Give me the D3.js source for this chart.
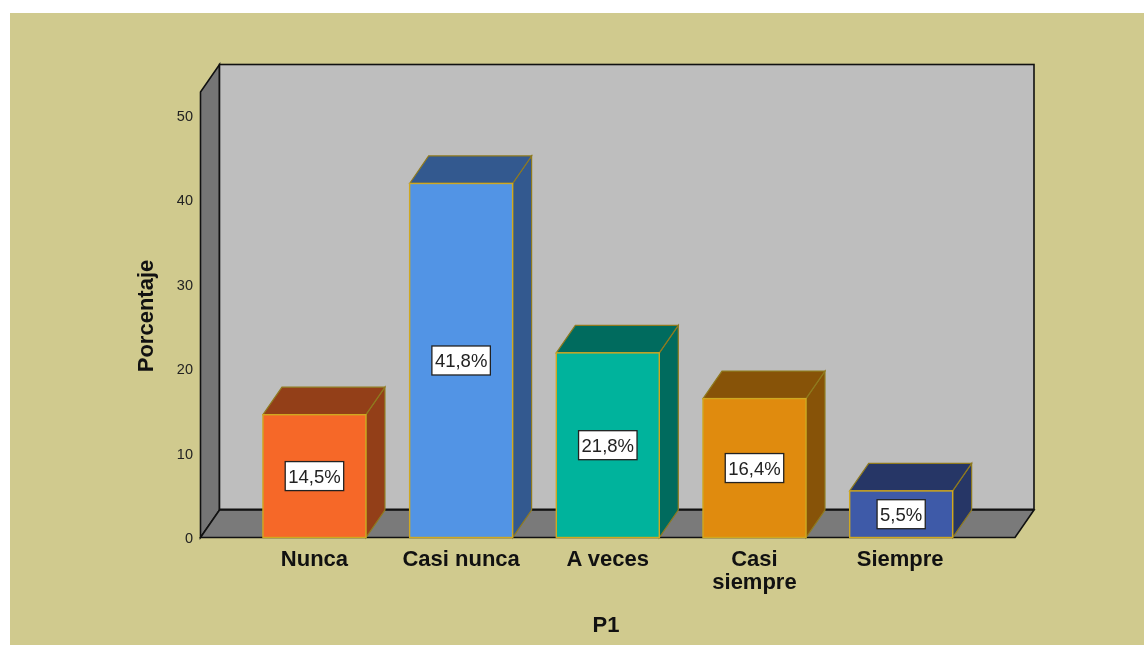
<!DOCTYPE html>
<html><head><meta charset="utf-8">
<script src="https://cdn.jsdelivr.net/npm/d3@7/dist/d3.min.js"></script>
<style>html,body{margin:0;padding:0;background:#fff}svg{display:block;filter:blur(0.35px)}text{font-family:"Liberation Sans",Arial,sans-serif}</style>
</head><body><svg id="c" width="1144" height="645"></svg>
<script>
const categories = ["Nunca","Casi nunca","A veces","Casi siempre","Siempre"];
const values = [14.5,41.8,21.8,16.4,5.5];
const valueLabels = ["14,5%","41,8%","21,8%","16,4%","5,5%"];
const frontColors = ["#f66828","#5294e5","#00b39c","#e08b0e","#3e5aa8"];
const sideColors = ["#933f18","#33598f","#006b5e","#875308","#263666"];
const yTicks = [0,10,20,30,40,50];
const xTitle = "P1", yTitle = "Porcentaje";

const svg = d3.select("#c");
const dx = 19, dy = -27.5;
const base = 537.5;
const x = d3.scaleBand().domain(categories).range([241.1,974.5]).paddingInner(0.298).paddingOuter(0.149);
const yMax = 52.6;
const y = d3.scaleLinear().domain([0,yMax]).range([base,92]);
const tickY = d3.scaleLinear().domain([0,50]).range([538,116]);
const wallLeft = 200.5, wallRight = 1015;
const poly = pts => pts.map(p=>p.join(",")).join(" ");

svg.append("rect").attr("x",10).attr("y",13).attr("width",1134).attr("height",640).attr("fill","#d0ca8e");

// walls
const wallTop = y(yMax);
svg.append("polygon").attr("points",poly([[wallLeft,base],[wallLeft,wallTop],[wallLeft+dx,wallTop+dy],[wallLeft+dx,base+dy]]))
  .attr("fill","#757575").attr("stroke","#111").attr("stroke-width",1.6);
svg.append("polygon").attr("points",poly([[wallLeft,base],[wallLeft+dx,base+dy],[wallRight+dx,base+dy],[wallRight,base]]))
  .attr("fill","#7a7a7a").attr("stroke","#111").attr("stroke-width",1.6);
svg.append("rect").attr("x",wallLeft+dx).attr("y",wallTop+dy).attr("width",wallRight-wallLeft).attr("height",base-wallTop-0.7)
  .attr("fill","#bebebe").attr("stroke","#111").attr("stroke-width",1.6);

// y ticks
svg.append("g").selectAll("text").data(yTicks).join("text")
  .attr("x",193).attr("y",d=>tickY(d)).attr("dy","0.35em").attr("text-anchor","end")
  .attr("font-size",14.5).attr("fill","#222").text(d=>d);

// bars
const bars = svg.append("g").selectAll("g").data(categories).join("g");
bars.each(function(c,i){
  const g = d3.select(this), x0 = x(c), w = x.bandwidth(), yt = y(values[i]);
  g.append("polygon").attr("points",poly([[x0+w,base],[x0+w,yt],[x0+w+dx,yt+dy],[x0+w+dx,base+dy]]))
    .attr("fill",sideColors[i]).attr("stroke","#8f7a1e").attr("stroke-width",1.2);
  g.append("polygon").attr("points",poly([[x0,yt],[x0+dx,yt+dy],[x0+w+dx,yt+dy],[x0+w,yt]]))
    .attr("fill",sideColors[i]).attr("stroke","#8f7a1e").attr("stroke-width",1.2);
  g.append("rect").attr("x",x0).attr("y",yt).attr("width",w).attr("height",base-yt)
    .attr("fill",frontColors[i]).attr("stroke","#d0a820").attr("stroke-width",1.4);
  const cy = (yt+base)/2, cx = x0+w/2;
  const t = g.append("text").attr("x",cx).attr("y",cy).attr("dy","0.36em").attr("text-anchor","middle")
    .attr("font-size",18.5).attr("fill","#222").text(valueLabels[i]);
  const tw = t.node().getComputedTextLength();
  g.insert("rect","text").attr("x",cx-tw/2-3).attr("y",cy-14.5).attr("width",tw+6).attr("height",29)
    .attr("fill","#fff").attr("stroke","#222").attr("stroke-width",1.3);
});

// category labels
const catLines = {"Casi siempre":["Casi","siempre"]};
svg.append("g").selectAll("text").data(categories).join("text")
  .attr("text-anchor","middle").attr("font-size",22).attr("font-weight","bold").attr("fill","#111")
  .each(function(c){
    const lines = catLines[c] || [c];
    d3.select(this).selectAll("tspan").data(lines).join("tspan")
      .attr("x",x(c)+x.bandwidth()/2 - (c==="Siempre"?1:0)).attr("y",(d,i)=>566+i*23).text(d=>d);
  });

svg.append("text").attr("x",606).attr("y",632).attr("text-anchor","middle")
  .attr("font-size",22).attr("font-weight","bold").attr("fill","#111").text(xTitle);
svg.append("text").attr("transform","translate(152.5,316) rotate(-90)").attr("text-anchor","middle")
  .attr("font-size",22).attr("font-weight","bold").attr("fill","#111").text(yTitle);
</script></body></html>
